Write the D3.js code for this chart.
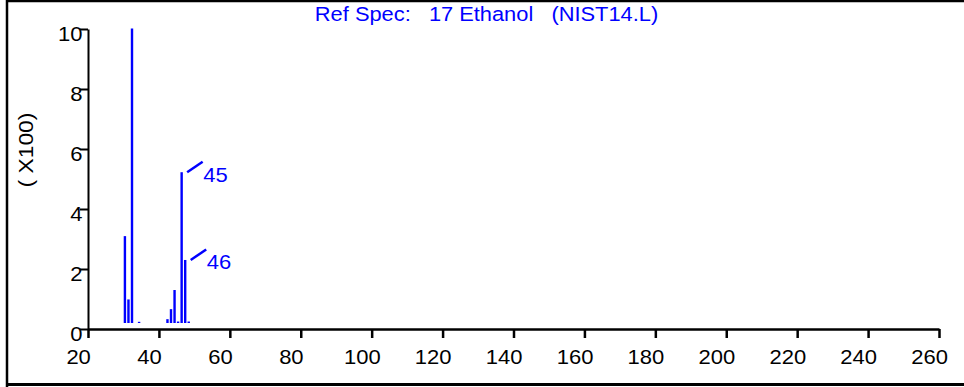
<!DOCTYPE html>
<html>
<head>
<meta charset="utf-8">
<script src="https://cdn.jsdelivr.net/npm/d3@7"></script>
<style>
  html, body { margin: 0; padding: 0; background: #fff; }
  svg { display: block; }
</style>
</head>
<body>
<div id="chart"></div>
<script>
/* Mass spectrum – reference spectrum of ethanol */

const titleText = 'Ref Spec:   17 Ethanol   (NIST14.L)';
const yLabelText = '( X100)';

// m/z of each peak and its abundance
const mzValues = [29, 30, 31, 33, 41, 42, 43, 44, 45, 46, 47];
const abundances = [295, 80, 1000, 4, 13, 47, 112, 5, 512, 214, 5];

// peaks that carry a label
const labelledPeaks = [45, 46];

const xTicks = [20, 40, 60, 80, 100, 120, 140, 160, 180, 200, 220, 240, 260];
const yTicks = [0, 2, 4, 6, 8, 10];

const cfg = {
  w: 964,
  h: 387,
  left: 88,
  right: 939,
  top: 29,
  bottom: 329,
  barBase: 323,
  barShift: 5,
  blue: '#0000ff',
  font: "'Liberation Sans', Arial, sans-serif",
  stretch: 1.1,   // the reference text is a little wider than Arial
};

const svg = d3.select('#chart')
  .append('svg')
  .attr('width', cfg.w)
  .attr('height', cfg.h);

// Frame
svg.append('path')
  .attr('d', `M7,${cfg.h + 5}V1H${cfg.w + 5}`)
  .attr('fill', 'none')
  .attr('stroke', '#000')
  .attr('stroke-width', 2.5);
svg.append('line')
  .attr('x1', 6).attr('x2', cfg.w + 5)
  .attr('y1', 384.5).attr('y2', 384.5)
  .attr('stroke', '#000')
  .attr('stroke-width', 3);

// Scales
const x = d3.scaleLinear().domain([20, 260]).range([cfg.left, cfg.right]);
const y = d3.scaleLinear().domain([0, 10]).range([cfg.bottom, cfg.top]);
const yBar = d3.scaleLinear().domain([0, 1000]).range([cfg.barBase, cfg.top - 0.5]);

// X axis (labels sit a bit left of their ticks, as in the reference)
svg.append('g')
  .attr('transform', `translate(0, ${cfg.bottom})`)
  .call(d3.axisBottom(x).tickValues(xTicks).tickSize(9).tickSizeOuter(0).tickPadding(12))
  .call(g => g.select('.domain').attr('stroke', '#000').attr('stroke-width', 2.5))
  .call(g => g.selectAll('.tick line').attr('stroke', '#000').attr('stroke-width', 2.5))
  .call(g => g.selectAll('.tick text')
    .attr('fill', '#000')
    .attr('dx', '-9px')
    .attr('transform', `scale(${cfg.stretch}, 1)`)
    .attr('font-family', cfg.font)
    .attr('font-size', '20px'));

// Y axis
svg.append('g')
  .attr('transform', `translate(${cfg.left}, 0)`)
  .call(d3.axisLeft(y).tickValues(yTicks).tickSize(8).tickSizeOuter(0).tickPadding(-3))
  .call(g => g.select('.domain').attr('stroke', '#000').attr('stroke-width', 2))
  .call(g => g.selectAll('.tick line').attr('stroke', '#000').attr('stroke-width', 2))
  .call(g => g.selectAll('.tick text')
    .attr('fill', '#000')
    .attr('dy', '11px')
    .attr('transform', `scale(${cfg.stretch}, 1)`)
    .attr('font-family', cfg.font)
    .attr('font-size', '20px'));

// Y axis label
svg.append('text')
  .attr('transform', 'translate(33, 150) rotate(-90) scale(1.14, 1)')
  .attr('text-anchor', 'middle')
  .attr('fill', '#000')
  .attr('font-family', cfg.font)
  .attr('font-size', '20px')
  .style('white-space', 'pre')
  .text(yLabelText);

// Title
svg.append('text')
  .attr('transform', 'translate(486.5, 21) scale(1.12, 1)')
  .attr('text-anchor', 'middle')
  .attr('fill', cfg.blue)
  .attr('font-family', cfg.font)
  .attr('font-size', '19.5px')
  .style('white-space', 'pre')
  .text(titleText);

// Peaks
const peaks = mzValues.map((mz, i) => ({ mz, value: abundances[i] }));

svg.append('g')
  .selectAll('rect')
  .data(peaks)
  .join('rect')
  .attr('x', d => x(d.mz) + cfg.barShift - 1.2)
  .attr('width', 2.4)
  .attr('y', d => yBar(d.value))
  .attr('height', d => Math.max(1, cfg.barBase - yBar(d.value)))
  .attr('fill', cfg.blue);

// Peak labels with leader lines
peaks.filter(d => labelledPeaks.includes(d.mz)).forEach(d => {
  const px = x(d.mz) + cfg.barShift;
  const py = yBar(d.value);
  svg.append('line')
    .attr('x1', px + 5.5).attr('y1', py)
    .attr('x2', px + 21).attr('y2', py - 10.5)
    .attr('stroke', cfg.blue)
    .attr('stroke-width', 2.5);
  svg.append('text')
    .attr('transform', `translate(${px + 21.5}, ${py + 9.5}) scale(${cfg.stretch}, 1)`)
    .attr('fill', cfg.blue)
    .attr('font-family', cfg.font)
    .attr('font-size', '20px')
    .text(d.mz);
});
</script>
</body>
</html>
